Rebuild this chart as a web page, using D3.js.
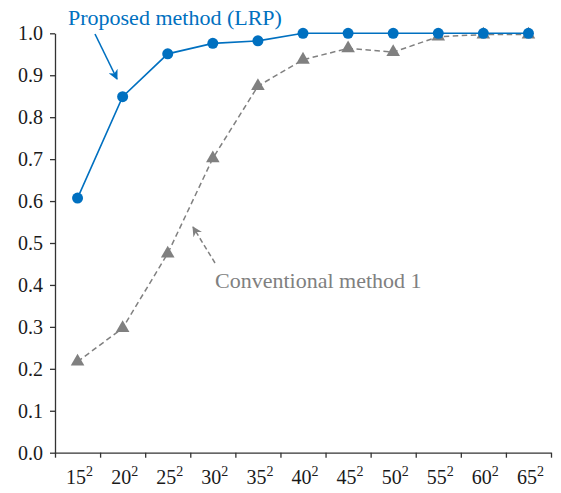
<!DOCTYPE html>
<html>
<head>
<meta charset="utf-8">
<script src="https://cdn.jsdelivr.net/npm/d3@7"></script>
<style>
  body { margin: 0; background: #fff; }
  svg { display: block; }
  svg text { font-family: "Liberation Serif", "DejaVu Serif", serif !important; }
</style>
</head>
<body>
<svg id="chart" width="561" height="493"></svg>
<script>
// ---- data ----
const sizes = [15, 20, 25, 30, 35, 40, 45, 50, 55, 60, 65];
const exponent = "2";
const lrpValues = [0.607, 0.849, 0.951, 0.976, 0.982, 1.0, 1.0, 1.0, 1.0, 1.0, 1.0];
const conv1Values = [0.217, 0.297, 0.475, 0.702, 0.874, 0.937, 0.964, 0.955, 0.992, 0.997, 0.997];
const yTicks = [0, 0.1, 0.2, 0.3, 0.4, 0.5, 0.6, 0.7, 0.8, 0.9, 1.0];
const lrpLabel = "Proposed method (LRP)";
const conv1Label = "Conventional method 1";

(function () {
const blue = "#0070C0";
const gray = "#808080";
const serif = "'Liberation Serif', 'DejaVu Serif', serif";

const svg = d3.select("#chart");

const mLeft = 55, mRight = 551, mTop = 33.3, mBottom = 452.7;

const x = d3.scaleBand().domain(sizes).range([mLeft, mRight]).padding(0);
const xEdge = d3.scaleLinear().domain([0, sizes.length]).range([mLeft, mRight]);
const y = d3.scaleLinear().domain([0, 1]).range([mBottom, mTop]);

// markers
const defs = svg.append("defs");
defs.append("marker").attr("id", "arrBlue").attr("viewBox", "0 0 10 10")
  .attr("refX", 9).attr("refY", 5).attr("markerWidth", 10).attr("markerHeight", 10)
  .attr("markerUnits", "userSpaceOnUse").attr("orient", "auto")
  .append("path").attr("d", "M0,0 L10,5 L0,10 L3,5 Z").attr("fill", blue);
defs.append("marker").attr("id", "arrGray").attr("viewBox", "0 0 10 10")
  .attr("refX", 9).attr("refY", 5).attr("markerWidth", 10).attr("markerHeight", 10)
  .attr("markerUnits", "userSpaceOnUse").attr("orient", "auto")
  .append("path").attr("d", "M0,0 L10,5 L0,10 L3,5 Z").attr("fill", gray);

// y axis
const yAxis = svg.append("g").attr("transform", `translate(${mLeft},0)`)
  .call(d3.axisLeft(y).tickValues(yTicks).tickFormat(d3.format(".1f"))
    .tickSize(5).tickSizeOuter(0).tickPadding(7));
yAxis.attr("font-family", null).attr("font-size", null);
yAxis.select(".domain").attr("stroke", "#333").attr("stroke-width", 1.3);
yAxis.selectAll(".tick line").attr("stroke", "#333").attr("stroke-width", 1.3);
yAxis.selectAll(".tick text").style("font-family", serif).style("font-size", "20px")
  .attr("fill", "#1a1a1a");

// x axis (ticks at category boundaries)
const xAxis = svg.append("g").attr("transform", `translate(0,${mBottom})`)
  .call(d3.axisBottom(xEdge).tickValues(d3.range(sizes.length + 1)).tickFormat("")
    .tickSize(5).tickSizeOuter(0));
xAxis.attr("font-family", null).attr("font-size", null);
xAxis.select(".domain").attr("stroke", "#333").attr("stroke-width", 1.3);
xAxis.selectAll(".tick line").attr("stroke", "#333").attr("stroke-width", 1.3);

// x labels with superscript
const xl = svg.append("g").selectAll("text").data(sizes).join("text")
  .attr("x", d => x(d) + x.bandwidth() / 2 + 2)
  .attr("y", 484)
  .attr("text-anchor", "middle")
  .style("font-family", serif).style("font-size", "20px")
  .attr("fill", "#1a1a1a");
xl.append("tspan").text(d => d);
xl.append("tspan").style("font-size", "14px").attr("dy", -8).text(exponent);

const cx = d => x(d) + x.bandwidth() / 2;

// conventional method 1 (dashed gray)
const line = d3.line().x((d, i) => cx(sizes[i])).y(d => y(d));
svg.append("path").datum(conv1Values).attr("d", line)
  .attr("fill", "none").attr("stroke", gray).attr("stroke-width", 1.5)
  .attr("stroke-dasharray", "5.5,3.5");
const tri = d3.symbol().type(d3.symbolTriangle).size(80);
svg.append("g").selectAll("path").data(conv1Values).join("path")
  .attr("d", tri)
  .attr("transform", (d, i) => `translate(${cx(sizes[i])},${y(d)})`)
  .attr("fill", gray);

// proposed method (blue)
svg.append("path").datum(lrpValues).attr("d", line)
  .attr("fill", "none").attr("stroke", blue).attr("stroke-width", 1.6);
svg.append("g").selectAll("circle").data(lrpValues).join("circle")
  .attr("cx", (d, i) => cx(sizes[i])).attr("cy", d => y(d)).attr("r", 5.5)
  .attr("fill", blue);

// annotations
svg.append("text").attr("x", 68).attr("y", 25)
  .style("font-family", serif).style("font-size", "22px")
  .attr("fill", blue).text(lrpLabel);
svg.append("line").attr("x1", 95).attr("y1", 34).attr("x2", 117).attr("y2", 79)
  .attr("stroke", blue).attr("stroke-width", 1.6).attr("marker-end", "url(#arrBlue)");

svg.append("text").attr("x", 215).attr("y", 288)
  .style("font-family", serif).style("font-size", "22px")
  .attr("fill", gray).text(conv1Label);
svg.append("line").attr("x1", 215).attr("y1", 263).attr("x2", 193).attr("y2", 227)
  .attr("stroke", gray).attr("stroke-width", 1.5).attr("stroke-dasharray", "5,3")
  .attr("marker-end", "url(#arrGray)");
})();
</script>
</body>
</html>
